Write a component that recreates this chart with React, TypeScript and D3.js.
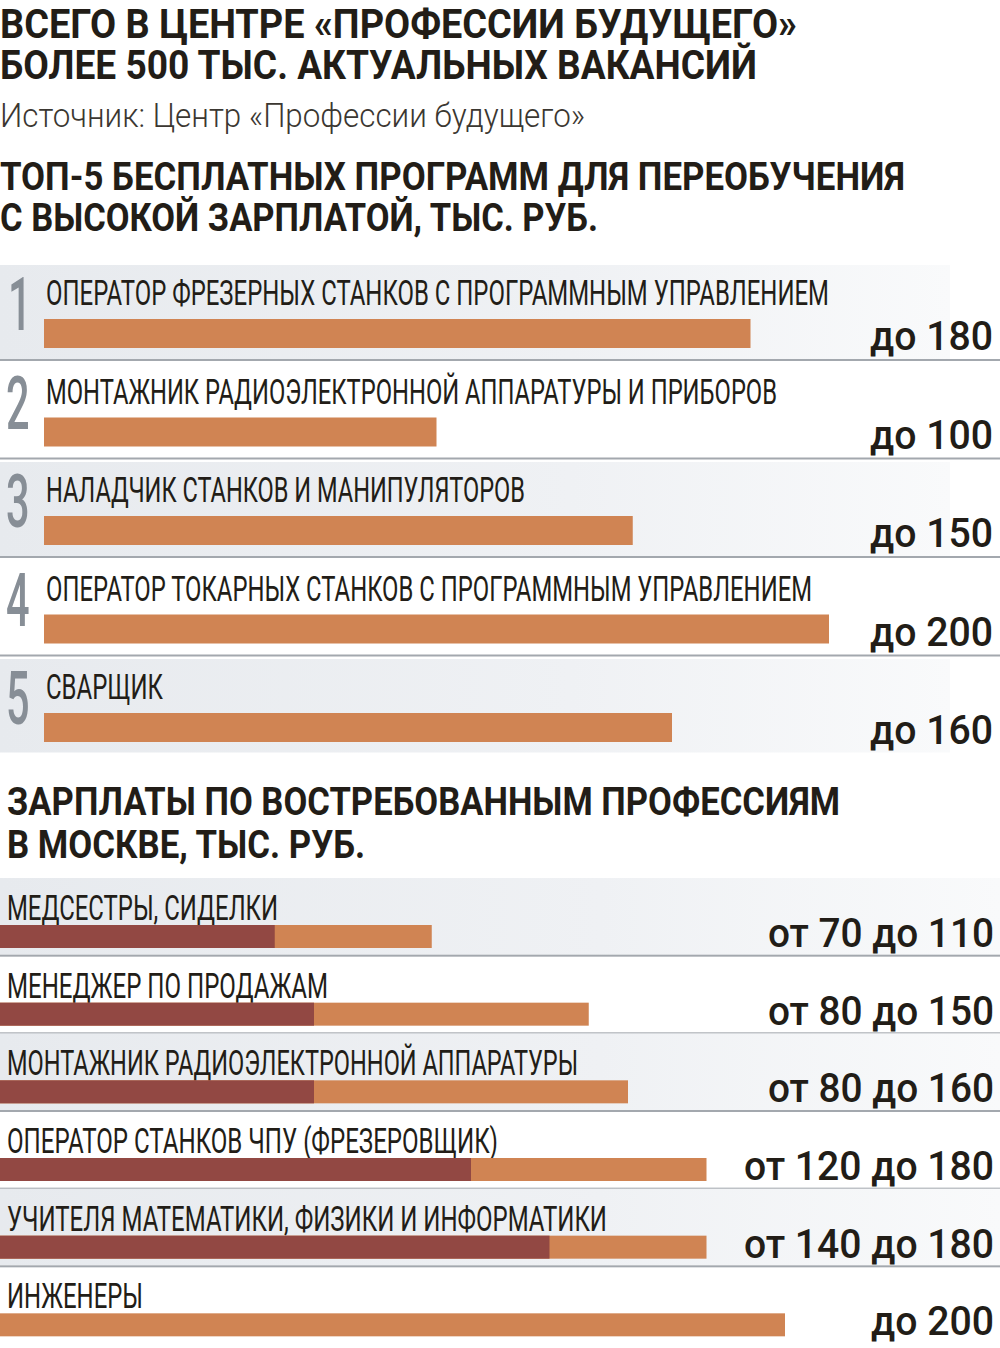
import React from "react";
import * as d3 from "d3";

const titleLines = ["ВСЕГО В ЦЕНТРЕ «ПРОФЕССИИ БУДУЩЕГО»", "БОЛЕЕ 500 ТЫС. АКТУАЛЬНЫХ ВАКАНСИЙ"];
const sourceText = "Источник: Центр «Профессии будущего»";
const header1Lines = ["ТОП-5 БЕСПЛАТНЫХ ПРОГРАММ ДЛЯ ПЕРЕОБУЧЕНИЯ", "С ВЫСОКОЙ ЗАРПЛАТОЙ, ТЫС. РУБ."];
const header2Lines = ["ЗАРПЛАТЫ ПО ВОСТРЕБОВАННЫМ ПРОФЕССИЯМ", "В МОСКВЕ, ТЫС. РУБ."];

const topRanks = ["1", "2", "3", "4", "5"];
const topPrograms = [
  "ОПЕРАТОР ФРЕЗЕРНЫХ СТАНКОВ С ПРОГРАММНЫМ УПРАВЛЕНИЕМ",
  "МОНТАЖНИК РАДИОЭЛЕКТРОННОЙ АППАРАТУРЫ И ПРИБОРОВ",
  "НАЛАДЧИК СТАНКОВ И МАНИПУЛЯТОРОВ",
  "ОПЕРАТОР ТОКАРНЫХ СТАНКОВ С ПРОГРАММНЫМ УПРАВЛЕНИЕМ",
  "СВАРЩИК",
];
const topMax = [180, 100, 150, 200, 160];

const professions = [
  "МЕДСЕСТРЫ, СИДЕЛКИ",
  "МЕНЕДЖЕР ПО ПРОДАЖАМ",
  "МОНТАЖНИК РАДИОЭЛЕКТРОННОЙ АППАРАТУРЫ",
  "ОПЕРАТОР СТАНКОВ ЧПУ (ФРЕЗЕРОВЩИК)",
  "УЧИТЕЛЯ МАТЕМАТИКИ, ФИЗИКИ И ИНФОРМАТИКИ",
  "ИНЖЕНЕРЫ",
];
const salaryMin: (number | null)[] = [70, 80, 80, 120, 140, null];
const salaryMax = [110, 150, 160, 180, 180, 200];

// text widths measured from the reference (layout, not data)
const topLabelWidths = [783, 731, 479, 766, 117];
const profLabelWidths = [271, 321, 571, 491, 600, 136];

const ORANGE = "#d08453";
const DARK = "#924843";
const TEXT = "#221d17";
const GRAY_NUM = "#878e96";
const LINE = "#a3a8ae";

const FONT = "Roboto, 'Noto Sans', sans-serif";

export default function App() {
  const W = 1000;
  const H = 1348;

  const x1 = d3.scaleLinear().domain([0, 200]).range([44, 829]);
  const x2 = d3.scaleLinear().domain([0, 200]).range([0, 785]);

  const y1 = d3.scaleBand<string>().domain(topRanks).range([262, 754.5]).padding(0);
  const y2 = d3.scaleBand<string>().domain(professions).range([878, 1344]).padding(0);

  const valueText = (min: number | null, max: number) =>
    min == null ? `до ${max}` : `от ${min} до ${max}`;
  const valueWidth = (s: string) => (s.length <= 6 ? 123 : s.length <= 12 ? 226 : 250);

  return (
    <svg width={W} height={H} viewBox={`0 0 ${W} ${H}`} style={{ display: "block", position: "absolute", left: 0, top: 0 }}>
      <defs>
        <linearGradient id="rowbg" x1="0" x2="1" y1="0" y2="0">
          <stop offset="0" stopColor="#e7eaee" />
          <stop offset="0.6" stopColor="#eff1f4" />
          <stop offset="1" stopColor="#f9fafb" />
        </linearGradient>
      </defs>
      <rect x={0} y={0} width={W} height={H} fill="#ffffff" />

      {/* Title */}
      {titleLines.map((t, i) => (
        <text key={t} x={0} y={38 + i * 41} fontFamily={FONT} fontWeight={700} fontSize={41} fill={TEXT}
          textLength={i === 0 ? 797 : 757} lengthAdjust="spacingAndGlyphs">{t}</text>
      ))}
      <text x={0} y={127} fontFamily={FONT} fontWeight={300} fontSize={33} fill="#3b3731"
        textLength={585} lengthAdjust="spacingAndGlyphs">{sourceText}</text>

      {header1Lines.map((t, i) => (
        <text key={t} x={0} y={190 + i * 41} fontFamily={FONT} fontWeight={700} fontSize={39} fill={TEXT}
          textLength={i === 0 ? 905 : 598} lengthAdjust="spacingAndGlyphs">{t}</text>
      ))}

      {/* Section 1 */}
      {topRanks.map((r, i) => {
        const top = y1(r)!;
        const bh = y1.bandwidth();
        const last = i === topRanks.length - 1;
        const v = valueText(null, topMax[i]);
        return (
          <g key={r}>
            {i % 2 === 0 && (
              <rect x={0} y={top + 3} width={950} height={bh - (last ? 5 : 4)} fill="url(#rowbg)" />
            )}
            {!last && <rect x={0} y={top + bh - 1.5} width={1000} height={2} fill={LINE} />}
            <text transform={`translate(${r === "1" ? 8 : 6},${top + 68}) scale(0.56,1)`} fontFamily={FONT}
              fontSize={74} fontWeight={500} fill={GRAY_NUM}>{r}</text>
            <text x={46} y={top + 43} fontFamily={FONT} fontSize={35} fill={TEXT}
              textLength={topLabelWidths[i]} lengthAdjust="spacingAndGlyphs">{topPrograms[i]}</text>
            <rect x={x1(0)} y={top + 57} width={x1(topMax[i]) - x1(0)} height={29} fill={ORANGE} />
            <text x={993} y={top + 88} textAnchor="end" fontFamily={FONT} fontWeight={500} fontSize={41}
              fill={TEXT} textLength={valueWidth(v)} lengthAdjust="spacingAndGlyphs">{v}</text>
          </g>
        );
      })}

      {/* Section 2 header */}
      {header2Lines.map((t, i) => (
        <text key={t} x={7} y={815 + i * 43} fontFamily={FONT} fontWeight={700} fontSize={38} fill={TEXT}
          textLength={i === 0 ? 833 : 358} lengthAdjust="spacingAndGlyphs">{t}</text>
      ))}

      {/* Section 2 */}
      {professions.map((p, i) => {
        const top = y2(p)!;
        const bh = y2.bandwidth();
        const last = i === professions.length - 1;
        const mn = salaryMin[i];
        const mx = salaryMax[i];
        const v = valueText(mn, mx);
        return (
          <g key={p}>
            {i % 2 === 0 && <rect x={0} y={top} width={1000} height={bh - 1} fill="url(#rowbg)" />}
            {!last && <rect x={0} y={top + bh - 1} width={1000} height={2} fill={LINE} />}
            <text x={7} y={top + 42} fontFamily={FONT} fontSize={35} fill={TEXT}
              textLength={profLabelWidths[i]} lengthAdjust="spacingAndGlyphs">{p}</text>
            <rect x={x2(0)} y={top + 47} width={x2(mx) - x2(0)} height={23} fill={ORANGE} />
            {mn != null && (
              <rect x={x2(0)} y={top + 47} width={x2(mn) - x2(0)} height={23} fill={DARK} />
            )}
            <text x={994} y={top + 69} textAnchor="end" fontFamily={FONT} fontWeight={500} fontSize={40}
              fill={TEXT} textLength={valueWidth(v)} lengthAdjust="spacingAndGlyphs">{v}</text>
          </g>
        );
      })}
    </svg>
  );
}
